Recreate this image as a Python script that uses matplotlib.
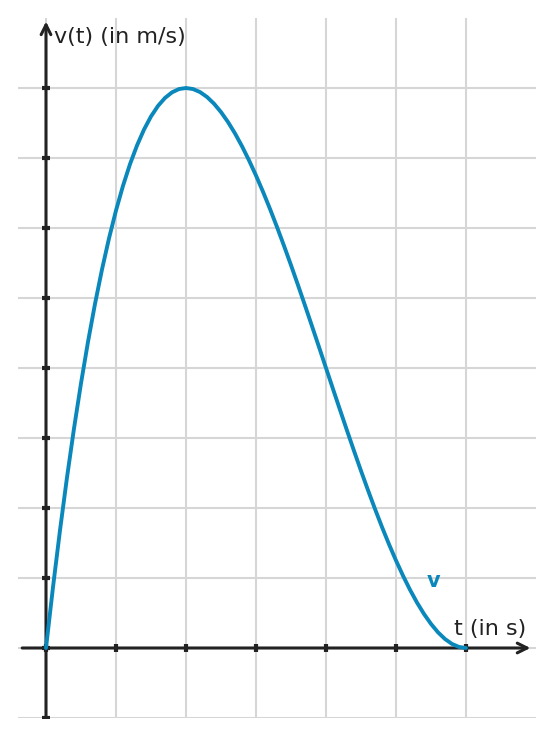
import matplotlib
matplotlib.use("Agg")
import matplotlib.pyplot as plt

# Data
t_values = [0.0, 0.1, 0.2, 0.3, 0.4, 0.5, 0.6, 0.7, 0.8, 0.9,
            1.0, 1.1, 1.2, 1.3, 1.4, 1.5, 1.6, 1.7, 1.8, 1.9,
            2.0, 2.1, 2.2, 2.3, 2.4, 2.5, 2.6, 2.7, 2.8, 2.9,
            3.0, 3.1, 3.2, 3.3, 3.4, 3.5, 3.6, 3.7, 3.8, 3.9,
            4.0, 4.1, 4.2, 4.3, 4.4, 4.5, 4.6, 4.7, 4.8, 4.9,
            5.0, 5.1, 5.2, 5.3, 5.4, 5.5, 5.6, 5.7, 5.8, 5.9, 6.0]
v_values = [0.0, 0.870, 1.682, 2.437, 3.136, 3.781, 4.374, 4.916, 5.408, 5.852,
            6.250, 6.603, 6.912, 7.179, 7.406, 7.594, 7.744, 7.858, 7.938, 7.985,
            8.000, 7.985, 7.942, 7.872, 7.776, 7.656, 7.514, 7.351, 7.168, 6.967,
            6.750, 6.518, 6.272, 6.014, 5.746, 5.469, 5.184, 4.893, 4.598, 4.300,
            4.000, 3.700, 3.402, 3.107, 2.816, 2.531, 2.254, 1.986, 1.728, 1.482,
            1.250, 1.033, 0.832, 0.649, 0.486, 0.344, 0.224, 0.128, 0.058, 0.015, 0.0]
x_ticks = [0, 1, 2, 3, 4, 5, 6]
y_ticks = [-1, 0, 1, 2, 3, 4, 5, 6, 7, 8]
x_label = "t (in s)"
y_label = "v(t) (in m/s)"
curve_label = "v"

CURVE = "#0a88bb"
AXC = "#222222"
GRID = "#d6d6d6"

fig = plt.figure(figsize=(5.54, 7.36), dpi=100)
ax = fig.add_axes([18/554, 1 - 718/736, (536-18)/554, (718-18)/736])
ax.set_xlim(-0.4, 7.0)
ax.set_ylim(-1, 9)
for s in ax.spines.values():
    s.set_visible(False)
ax.set_xticks(x_ticks)
ax.set_yticks(y_ticks)
ax.tick_params(length=0, labelbottom=False, labelleft=False)
ax.grid(True, color=GRID, linewidth=1.5)
ax.set_axisbelow(True)

# axes with arrows
ax.annotate("", xy=(6.92, 0), xytext=(-0.34, 0),
            arrowprops=dict(arrowstyle="->,head_length=0.7,head_width=0.35", color=AXC, lw=2.2,
                            shrinkA=0, shrinkB=0), zorder=3)
ax.annotate("", xy=(0, 8.95), xytext=(0, -0.98),
            arrowprops=dict(arrowstyle="->,head_length=0.7,head_width=0.35", color=AXC, lw=2.2,
                            shrinkA=0, shrinkB=0), zorder=3)
# tick marks on axes
for xt in x_ticks:
    ax.plot([xt], [0], marker="|", markersize=6, mew=3, color=AXC, zorder=4)
for yt in y_ticks:
    ax.plot([0], [yt], marker="_", markersize=6, mew=3, color=AXC, zorder=4)

ax.plot(t_values, v_values, color=CURVE, linewidth=2.8, solid_joinstyle="round",
        solid_capstyle="round", zorder=5)

ax.text(0.11, 8.64, y_label, fontsize=16, color=AXC, ha="left", va="baseline")
ax.text(5.83, 0.19, x_label, fontsize=16, color=AXC, ha="left", va="baseline")
ax.text(5.53, 0.87, curve_label, fontsize=15, color=CURVE, fontweight="bold",
        ha="center", va="baseline")

fig.savefig("out.png", dpi=100)
